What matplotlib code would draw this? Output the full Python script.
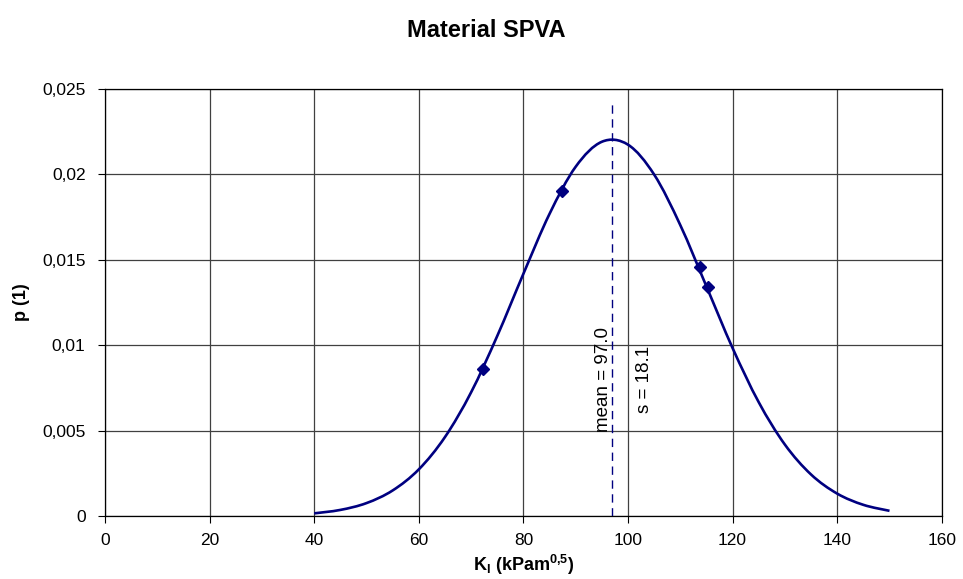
import matplotlib
matplotlib.use('Agg')
import numpy as np
import matplotlib.pyplot as plt
from matplotlib.path import Path
from matplotlib.patches import PathPatch
from matplotlib.ticker import FuncFormatter

plt.rcParams['font.family'] = ['Liberation Sans', 'DejaVu Sans']

# Крива розподілу (точки кожні 5 одиниць)
k_values = [40, 45, 50, 55, 60, 65, 70, 75, 80, 85, 90, 95, 100, 105,
            110, 115, 120, 125, 130, 135, 140, 145, 150]
p_values = [0.000155, 0.000356, 0.000756, 0.001495, 0.002729, 0.00462,
            0.00724, 0.01054, 0.01418, 0.01769, 0.02045, 0.02191,
            0.02174, 0.01999, 0.01703, 0.01344, 0.00983, 0.00666, 0.00418,
            0.00243, 0.00131, 0.000654, 0.000303]

# Виміряні точки
meas_k = [72.3, 87.4, 113.8, 115.3]
meas_p = [0.0086, 0.0190, 0.01458, 0.01341]

mean_k = 97.0
s_k = 18.1
mean_line_top = 0.0241


def smooth_path(xs, ys):
    """Згладжена лінія як у Excel: кубічні Безьє через усі точки."""
    pts = np.column_stack([xs, ys])
    verts = [pts[0]]
    codes = [Path.MOVETO]
    n = len(pts)
    for i in range(n - 1):
        p0 = pts[i - 1] if i > 0 else pts[i]
        p1, p2 = pts[i], pts[i + 1]
        p3 = pts[i + 2] if i + 2 < n else pts[i + 1]
        c1 = p1 + (p2 - p0) / 6
        c2 = p2 - (p3 - p1) / 6
        verts += [c1, c2, p2]
        codes += [Path.CURVE4] * 3
    return Path(verts, codes)


fig = plt.figure(figsize=(9.63, 5.79), dpi=100)
ax = fig.add_axes([0.109, 0.1088, 0.869, 0.7375])

ax.add_patch(PathPatch(smooth_path(k_values, p_values), facecolor='none',
                       edgecolor='#000080', linewidth=1.9, zorder=3))
ax.plot(meas_k, meas_p, linestyle='none', marker='D', markersize=6,
        color='#000080', zorder=4)
ax.plot([mean_k, mean_k], [0, mean_line_top], color='#000080',
        linestyle=(0, (6, 4)), linewidth=1.0, zorder=3)

ax.text(mean_k - 1.6, 0.0080, f'mean = {mean_k:.1f}', rotation=90,
        ha='center', va='center', fontsize=13.5, zorder=5)
ax.text(mean_k + 6.2, 0.0080, f's = {s_k:.1f}', rotation=90,
        ha='center', va='center', fontsize=13.5, zorder=5)

ax.set_xlim(0, 160)
ax.set_ylim(0, 0.025)
ax.set_xticks(range(0, 161, 20))
ax.set_yticks([0, 0.005, 0.01, 0.015, 0.02, 0.025])
ax.yaxis.set_major_formatter(FuncFormatter(
    lambda v, _: '0' if v == 0 else f'{v:g}'.replace('.', ',')))
ax.tick_params(labelsize=12.5, direction='out', length=5, width=0.8)
ax.tick_params(axis='y', pad=9)
ax.tick_params(axis='x', pad=7)
ax.grid(True, color='#404040', linewidth=0.9)
ax.set_axisbelow(True)
for sp in ax.spines.values():
    sp.set_color('black')
    sp.set_linewidth(0.9)

fig.suptitle('Material SPVA', fontsize=17, fontweight='bold', x=0.505, y=0.968)
ax.set_xlabel(r'K$_\mathregular{I}$ (kPam$^\mathregular{0{,}5}$)',
              fontsize=13, fontweight='bold', labelpad=4)
ax.set_ylabel('p (1)', fontsize=13, fontweight='bold', labelpad=9)

fig.savefig('out.png', dpi=100)
